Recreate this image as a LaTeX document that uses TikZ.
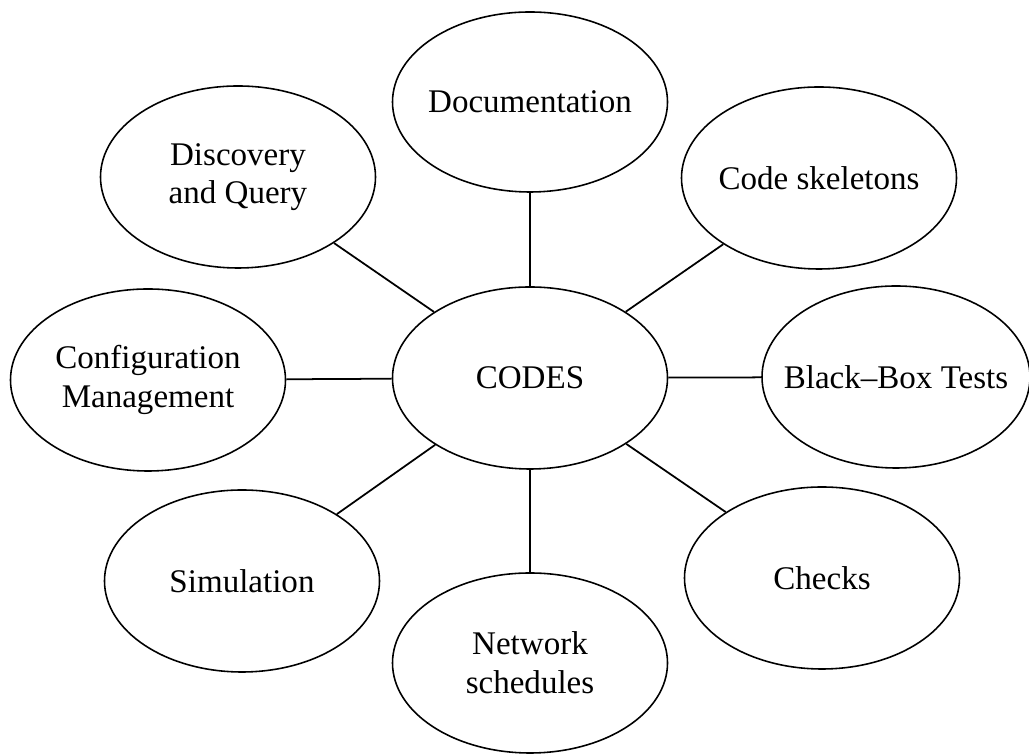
\documentclass[tikz,border=0pt]{standalone}
\usepackage{fontspec}
\setmainfont{Liberation Serif}
\usetikzlibrary{shapes.geometric}

\begin{document}
\begin{tikzpicture}[
	bubble/.style = {draw,ellipse,inner xsep=-0.5cm,inner ysep=0pt,line width=0.9pt,
		minimum width=5.5cm,minimum height=3.64cm,align=center,font=\fontsize{18.8}{22}\selectfont},
	link/.style = {line width=1pt}
	]
	\useasboundingbox (0,0) rectangle (20.58,15.08);
	%CENTRO
	\node[bubble] (codes) at (10.6,7.52) {CODES};
	%NODI ESTERNI
	\node[bubble,minimum height=3.6cm] (doc) at (10.6,13.04) {Documentation};
	\node[bubble] (skel) at (16.38,11.52) {Code skeletons};
	\node[bubble] (disc) at (4.76,11.54) {Discovery\\and Query};
	\node[bubble] (conf) at (2.96,7.48) {Configuration\\Management};
	\node[bubble,minimum width=5.36cm] (bbox) at (17.92,7.54) {Black--Box Tests};
	\node[bubble] (sim) at (4.84,3.46) {Simulation};
	\node[bubble] (chk) at (16.44,3.52) {Checks};
	\node[bubble,minimum height=3.6cm] (net) at (10.6,1.82) {Network\\schedules};
	%COLLEGAMENTI
	\draw[link] (codes) -- (doc);
	\draw[link] (codes) -- (skel);
	\draw[link] (codes) -- (disc);
	\draw[link] (codes) -- (conf);
	\draw[link] (codes) -- (bbox);
	\draw[link] (codes) -- (sim);
	\draw[link] (codes) -- (chk);
	\draw[link] (codes) -- (net);
\end{tikzpicture}
\end{document}
